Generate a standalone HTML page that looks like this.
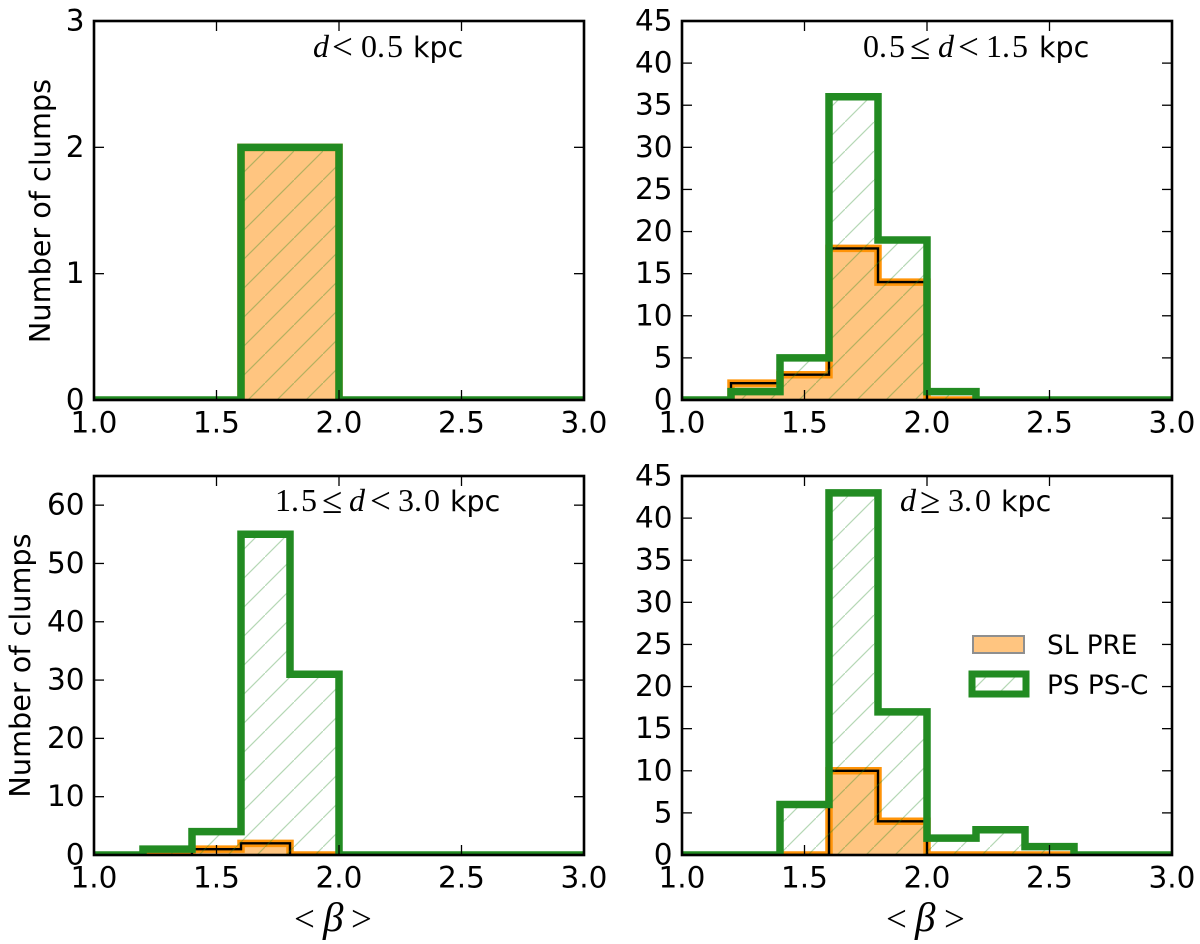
<!DOCTYPE html>
<html lang="en">
<head>
<meta charset="utf-8">
<title>Histograms of mean beta by distance</title>
<style>
  html, body { margin: 0; padding: 0; background: #fff; }
  svg { display: block; }
  text { fill: #000; }
  .tick-label { font-family: "DejaVu Sans", "Liberation Sans", sans-serif; font-size: 29.5px; }
  .axis-title { font-family: "DejaVu Sans", "Liberation Sans", sans-serif; font-size: 28.7px; }
  .legend-label { font-family: "DejaVu Sans", "Liberation Sans", sans-serif; font-size: 26.3px; }
  .math { font-family: "Liberation Serif", serif; font-size: 32px; }
  .rel { font-size: 37px; baseline-shift: -2px; }
  .beta { font-family: "Liberation Serif", serif; font-size: 37px; }
  .beta-glyph { font-size: 41px; }
  .kpc { font-family: "DejaVu Sans", "Liberation Sans", sans-serif; font-size: 28.5px; }
</style>
</head>
<body>
<svg id="figure" xmlns="http://www.w3.org/2000/svg" width="1200" height="944" viewBox="0 0 1200 944">
  <defs>
    <pattern id="hatch" patternUnits="userSpaceOnUse" width="29" height="29" patternTransform="translate(4 6)">
      <line x1="-2" y1="31" x2="31" y2="-2" stroke="#228b22" stroke-opacity="0.34" stroke-width="1.2"/>
    </pattern>
  </defs>
  <g id="panels"></g>
  <g id="legend">
    <rect x="973" y="636" width="51" height="17" fill="#ffc580" stroke="#8f8f8f" stroke-width="2"/>
    <rect x="972" y="674" width="54" height="20" fill="#fff" stroke="none"/>
    <rect x="972" y="674" width="54" height="20" fill="url(#hatch)" stroke="none"/>
    <rect x="972" y="674" width="54" height="20" fill="none" stroke="#228b22" stroke-width="7"/>
    <text class="legend-label" x="1047" y="654">SL PRE</text>
    <text class="legend-label" x="1047" y="694">PS PS-C</text>
  </g>
  <text class="axis-title" transform="translate(50 211) rotate(-90)" text-anchor="middle">Number of clumps</text>
  <text class="axis-title" transform="translate(30 665.5) rotate(-90)" text-anchor="middle">Number of clumps</text>
  <text class="beta" y="931"><tspan x="294">&lt;</tspan><tspan class="beta-glyph" x="323" font-style="italic">β</tspan><tspan x="351">&gt;</tspan></text>
  <text class="beta" y="931"><tspan x="886">&lt;</tspan><tspan class="beta-glyph" x="915" font-style="italic">β</tspan><tspan x="944">&gt;</tspan></text>
  <text class="math" y="57"><tspan x="313" font-style="italic">d</tspan><tspan class="rel" x="332">&lt;</tspan><tspan x="361">0.</tspan><tspan x="387">5</tspan><tspan class="kpc" x="413">kpc</tspan></text>
  <text class="math" y="57"><tspan x="863">0.</tspan><tspan x="889">5</tspan><tspan class="rel" x="910">≤</tspan><tspan x="938" font-style="italic">d</tspan><tspan class="rel" x="958">&lt;</tspan><tspan x="986">1.</tspan><tspan x="1012">5</tspan><tspan class="kpc" x="1039">kpc</tspan></text>
  <text class="math" y="511"><tspan x="275">1.</tspan><tspan x="301">5</tspan><tspan class="rel" x="322">≤</tspan><tspan x="349" font-style="italic">d</tspan><tspan class="rel" x="370">&lt;</tspan><tspan x="398">3.</tspan><tspan x="424">0</tspan><tspan class="kpc" x="450">kpc</tspan></text>
  <text class="math" y="511"><tspan x="900" font-style="italic">d</tspan><tspan class="rel" x="920">≥</tspan><tspan x="948">3.</tspan><tspan x="975">0</tspan><tspan class="kpc" x="1001">kpc</tspan></text>
</svg>
<script>
// Shared bins and tick labels
const binEdges = [1.0, 1.2, 1.4, 1.6, 1.8, 2.0, 2.2, 2.4, 2.6, 2.8, 3.0];
const xTickValues = [1.0, 1.5, 2.0, 2.5, 3.0];
const xTickLabels = ["1.0", "1.5", "2.0", "2.5", "3.0"];

// Near panel (d < 0.5 kpc)
const nearSL = [2, 2];
const nearSLStartBin = 3;
const nearPS = [0, 0, 0, 2, 2, 0, 0, 0, 0, 0];
const nearYTicks = [0, 1, 2, 3];
const nearYMax = 3;

// Mid panel (0.5 <= d < 1.5 kpc)
const midSL = [2, 3, 18, 14, 0];
const midSLStartBin = 1;
const midPS = [0, 1, 5, 36, 19, 1, 0, 0, 0, 0];
const midYTicks = [0, 5, 10, 15, 20, 25, 30, 35, 40, 45];
const midYMax = 45;

// Far panel (1.5 <= d < 3.0 kpc)
const farSL = [0, 1, 2, 0];
const farSLStartBin = 1;
const farPS = [0, 1, 4, 55, 31, 0, 0, 0, 0, 0];
const farYTicks = [0, 10, 20, 30, 40, 50, 60];
const farYMax = 65;

// Farthest panel (d >= 3.0 kpc)
const farthestSL = [0, 10, 4, 0, 0, 0];
const farthestSLStartBin = 2;
const farthestPS = [0, 0, 6, 43, 17, 2, 3, 1, 0, 0];
const farthestYTicks = [0, 5, 10, 15, 20, 25, 30, 35, 40, 45];
const farthestYMax = 45;

const SVG_NS = "http://www.w3.org/2000/svg";
const panelsGroup = document.getElementById("panels");

function make(tag, parent, attrs) {
  const el = document.createElementNS(SVG_NS, tag);
  for (const k in attrs) el.setAttribute(k, attrs[k]);
  parent.appendChild(el);
  return el;
}

function stepPath(values, startBin, xScale, yScale) {
  let d = "M" + xScale(binEdges[startBin]) + " " + yScale(0);
  values.forEach(function (v, i) {
    d += "L" + xScale(binEdges[startBin + i]) + " " + yScale(v);
    d += "L" + xScale(binEdges[startBin + i + 1]) + " " + yScale(v);
  });
  d += "L" + xScale(binEdges[startBin + values.length]) + " " + yScale(0);
  return d;
}

function drawPanel(cfg) {
  const xScale = function (v) { return cfg.left + (v - 1) / 2 * (cfg.right - cfg.left); };
  const yScale = function (v) { return cfg.bottom - v / cfg.yMax * (cfg.bottom - cfg.top); };

  const g = make("g", panelsGroup, {});
  
  

  const clipId = "clip-" + cfg.name;
  const clip = make("clipPath", g, { id: clipId });
  make("rect", clip, { x: cfg.left, y: cfg.top, width: cfg.right - cfg.left, height: cfg.bottom - cfg.top });
  const plot = make("g", g, { "clip-path": "url(#" + clipId + ")" });

  const slPath = stepPath(cfg.sl, cfg.slStart, xScale, yScale);
  const psPath = stepPath(cfg.ps, 0, xScale, yScale);

  const slFill = make("path", plot, { d: slPath, fill: "#ffc580", stroke: "none" });
  
  

  const slEdge = make("path", plot, { d: slPath, fill: "none", stroke: "#ff9408", "stroke-width": 7.5, "stroke-linejoin": "miter" });
  
  

  const slLine = make("path", plot, { d: slPath, fill: "none", stroke: "#000", "stroke-width": 2.4 });
  
  

  const psHatch = make("path", plot, { d: psPath, fill: "url(#hatch)", stroke: "none" });
  
  

  const psEdge = make("path", plot, { d: psPath, fill: "none", stroke: "#228b22", "stroke-width": 7.5, "stroke-linejoin": "miter" });
  
  

  xTickValues.forEach(function (v, i) {
    const x = xScale(v);
    const tb = make("line", g, { x1: x, x2: x, y1: cfg.bottom, y2: cfg.bottom - 10, stroke: "#000", "stroke-width": 1.3 });
    
    
    const tt = make("line", g, { x1: x, x2: x, y1: cfg.top, y2: cfg.top + 10, stroke: "#000", "stroke-width": 1.3 });
    
    
    const lab = make("text", g, { x: x, y: cfg.bottom + 32.5, "text-anchor": "middle", class: "tick-label" });
    
    
    lab.textContent = xTickLabels[i];
  });

  cfg.yTicks.forEach(function (v) {
    const y = yScale(v);
    const tl = make("line", g, { x1: cfg.left, x2: cfg.left + 10, y1: y, y2: y, stroke: "#000", "stroke-width": 1.3 });
    
    
    const tr = make("line", g, { x1: cfg.right, x2: cfg.right - 10, y1: y, y2: y, stroke: "#000", "stroke-width": 1.3 });
    
    
    const lab = make("text", g, { x: cfg.left - 9.5, y: y + 9.5, "text-anchor": "end", class: "tick-label" });
    
    
    lab.textContent = String(v);
  });

  const frame = make("rect", g, { x: cfg.left, y: cfg.top, width: cfg.right - cfg.left, height: cfg.bottom - cfg.top, fill: "none", stroke: "#000", "stroke-width": 2.6 });
  
  
}

drawPanel({ name: "panel-near", left: 94, right: 584, top: 21, bottom: 400, yMax: nearYMax, yTicks: nearYTicks, sl: nearSL, slStart: nearSLStartBin, ps: nearPS });
drawPanel({ name: "panel-mid", left: 682, right: 1172, top: 21, bottom: 400, yMax: midYMax, yTicks: midYTicks, sl: midSL, slStart: midSLStartBin, ps: midPS });
drawPanel({ name: "panel-far", left: 94, right: 584, top: 476, bottom: 855, yMax: farYMax, yTicks: farYTicks, sl: farSL, slStart: farSLStartBin, ps: farPS });
drawPanel({ name: "panel-farthest", left: 682, right: 1172, top: 476, bottom: 855, yMax: farthestYMax, yTicks: farthestYTicks, sl: farthestSL, slStart: farthestSLStartBin, ps: farthestPS });
</script>
</body>
</html>
